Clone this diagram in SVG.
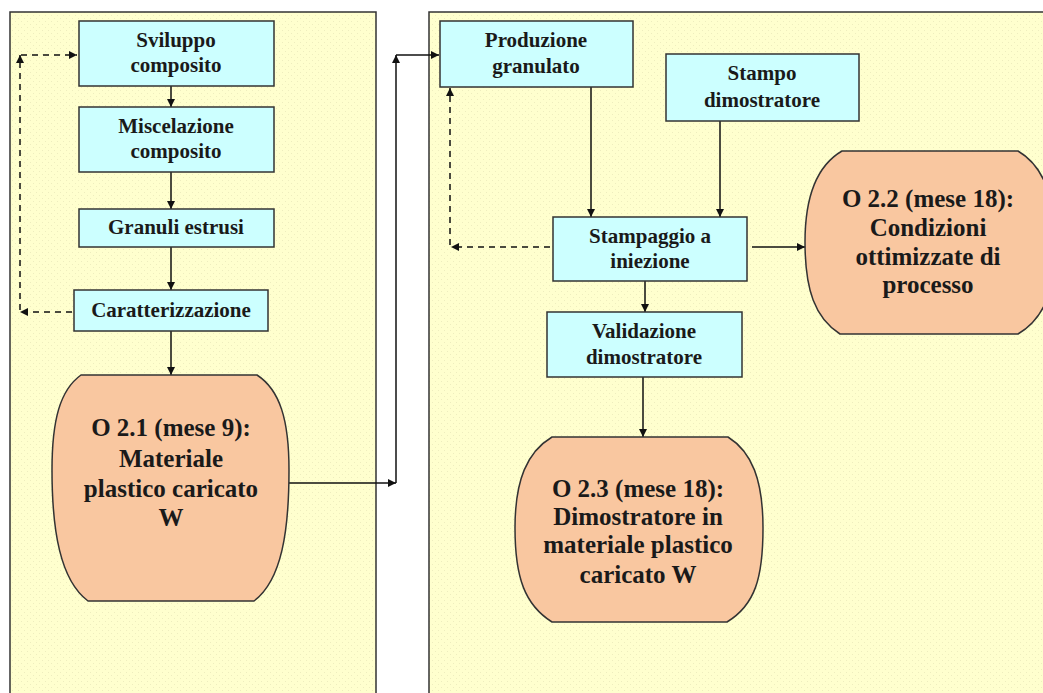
<svg xmlns="http://www.w3.org/2000/svg" width="1043" height="693" viewBox="0 0 1043 693">
<defs>
<pattern id="dots" width="6" height="6" patternUnits="userSpaceOnUse">
<rect width="6" height="6" fill="#FFFFCE"/>
<rect x="0" y="0" width="1" height="1" fill="#EEEDBE"/>
<rect x="3" y="3" width="1" height="1" fill="#EEEDBE"/>
</pattern>
<marker id="ah" viewBox="0 0 10 10" refX="10" refY="5" markerWidth="9" markerHeight="8" markerUnits="userSpaceOnUse" orient="auto">
<path d="M0,0 L10,5 L0,10 Z" fill="#111"/>
</marker>
<style>
.panel{fill:url(#dots);stroke:#333;stroke-width:1.5}
.box{fill:#CCFFFF;stroke:#333;stroke-width:1.5}
.out{fill:#F9C7A0;stroke:#333;stroke-width:1.5}
.bt{font-family:"Liberation Serif","Times New Roman",serif;font-weight:bold;font-size:21px;fill:#1a1a1a;text-anchor:middle}
.ot{font-family:"Liberation Serif","Times New Roman",serif;font-weight:bold;font-size:25px;fill:#1a1a1a;text-anchor:middle}
.ln{fill:none;stroke:#111;stroke-width:1.5;marker-end:url(#ah)}
.dl{fill:none;stroke:#111;stroke-width:1.5;stroke-dasharray:6 5;marker-end:url(#ah)}
</style>
</defs>
<rect width="1043" height="693" fill="#fff"/>
<g id="panel-left"><rect class="panel" x="10" y="12" width="366" height="700"/></g>
<g id="panel-right"><rect class="panel" x="429" y="12" width="700" height="700"/></g>

<g id="connectors">
<line class="ln" x1="171" y1="86" x2="171" y2="107"/>
<line class="ln" x1="171" y1="172" x2="171" y2="209"/>
<line class="ln" x1="171" y1="247" x2="171" y2="290"/>
<line class="ln" x1="171" y1="331" x2="171" y2="375"/>
<line class="dl" x1="72" y1="312" x2="20" y2="312"/>
<line class="dl" x1="20" y1="310" x2="20" y2="55"/>
<line class="dl" x1="21" y1="55" x2="77" y2="55"/>
<line class="ln" x1="289" y1="483" x2="396" y2="483"/>
<line class="ln" x1="396" y1="483" x2="396" y2="55"/>
<line class="ln" x1="396" y1="55" x2="439" y2="55"/>
<line class="ln" x1="591" y1="87" x2="591" y2="217"/>
<line class="ln" x1="720" y1="121" x2="720" y2="217"/>
<line class="ln" x1="645" y1="281" x2="645" y2="312"/>
<line class="ln" x1="643" y1="377" x2="643" y2="437"/>
<line class="ln" x1="752" y1="247" x2="805" y2="247"/>
<line class="dl" x1="550" y1="247" x2="451" y2="247"/>
<line class="dl" x1="450" y1="245" x2="450" y2="88"/>
</g>

<g id="sviluppo"><rect class="box" x="79" y="21" width="195" height="65"/>
<text class="bt" x="176" y="47">Sviluppo</text><text class="bt" x="176" y="72">composito</text></g>
<g id="miscelazione"><rect class="box" x="79" y="107" width="195" height="65"/>
<text class="bt" x="176" y="133">Miscelazione</text><text class="bt" x="176" y="158">composito</text></g>
<g id="granuli"><rect class="box" x="79" y="209" width="195" height="38"/>
<text class="bt" x="176" y="234">Granuli estrusi</text></g>
<g id="caratterizzazione"><rect class="box" x="74" y="290" width="194" height="41"/>
<text class="bt" x="171" y="317">Caratterizzazione</text></g>

<g id="o21"><path class="out" d="M81,375 L257,375 C280,390 289,420 289,470 C289,530 282,580 254,601 L88,601 C60,580 52,530 52,470 C52,420 60,390 81,375 Z"/>
<text class="ot" x="171" y="436">O 2.1 (mese 9):</text>
<text class="ot" x="171" y="467">Materiale</text>
<text class="ot" x="171" y="497">plastico caricato</text>
<text class="ot" x="171" y="526">W</text></g>

<g id="produzione"><rect class="box" x="440" y="21" width="193" height="66"/>
<text class="bt" x="536" y="47">Produzione</text><text class="bt" x="536" y="73">granulato</text></g>
<g id="stampo"><rect class="box" x="666" y="54" width="193" height="67"/>
<text class="bt" x="762" y="80">Stampo</text><text class="bt" x="762" y="107">dimostratore</text></g>
<g id="stampaggio"><rect class="box" x="553" y="217" width="194" height="64"/>
<text class="bt" x="650" y="243">Stampaggio a</text><text class="bt" x="650" y="268">iniezione</text></g>
<g id="validazione"><rect class="box" x="547" y="312" width="195" height="65"/>
<text class="bt" x="644" y="338">Validazione</text><text class="bt" x="644" y="364">dimostratore</text></g>

<g id="o22"><path class="out" d="M842,151 L1018,151 C1042,165 1055,195 1055,242 C1055,290 1045,318 1018,334 L840,334 C815,318 805,290 805,242 C805,195 818,165 842,151 Z"/>
<text class="ot" x="928" y="207">O 2.2 (mese 18):</text>
<text class="ot" x="928" y="236">Condizioni</text>
<text class="ot" x="928" y="265">ottimizzate di</text>
<text class="ot" x="928" y="293">processo</text></g>

<g id="o23"><path class="out" d="M552,437 L728,437 C752,452 763,480 763,528 C763,578 755,605 727,622 L552,622 C525,605 515,578 515,528 C515,480 527,452 552,437 Z"/>
<text class="ot" x="638" y="497">O 2.3 (mese 18):</text>
<text class="ot" x="638" y="525">Dimostratore in</text>
<text class="ot" x="638" y="553">materiale plastico</text>
<text class="ot" x="638" y="583">caricato W</text></g>
</svg>
